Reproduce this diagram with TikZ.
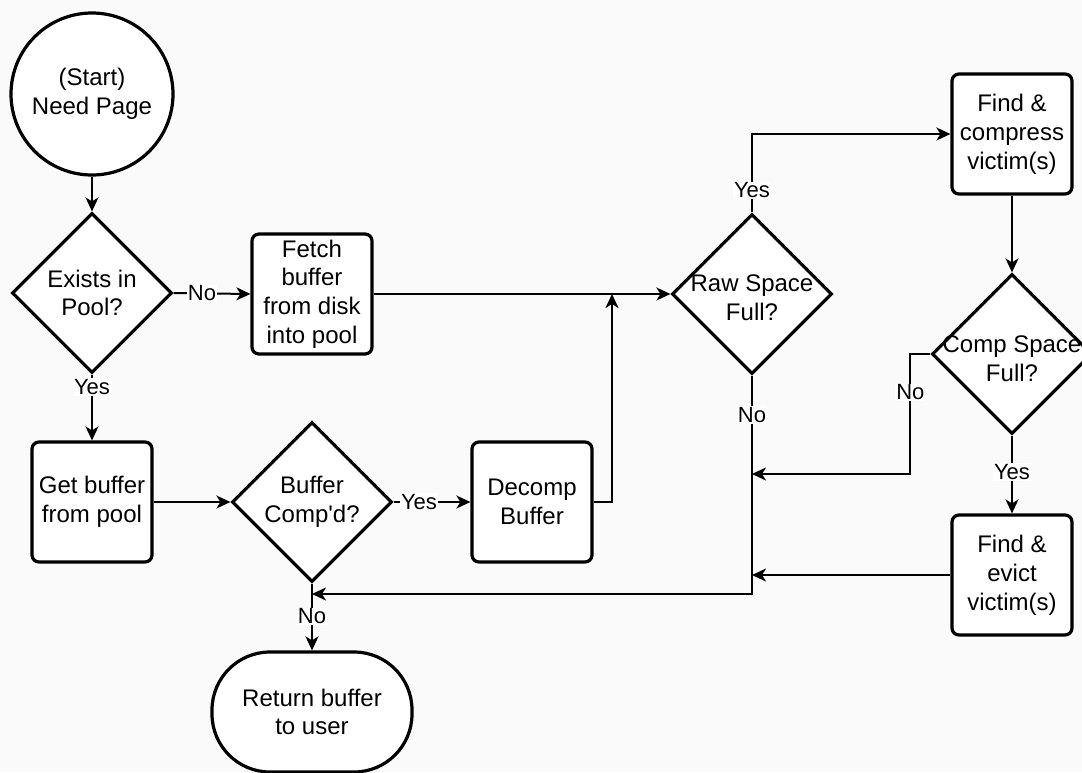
\documentclass[tikz,border=0pt]{standalone}
\usepackage{fontspec}
\setmainfont{Liberation Sans}
\usetikzlibrary{shapes.geometric,arrows.meta}
\definecolor{bgc}{RGB}{250,250,250}
\begin{document}
\begin{tikzpicture}[x=1pt,y=-1pt,
  shp/.style={draw=black,line width=3.2pt,fill=white},
  box/.style={shp,rounded corners=7pt,minimum width=120pt,minimum height=120pt,inner sep=1pt,align=center,font=\fontsize{24}{28.8}\selectfont},
  dia/.style={shp,diamond,minimum width=160pt,minimum height=160pt,inner sep=0pt},
  txt/.style={align=center,font=\fontsize{24}{28.8}\selectfont,inner sep=0pt},
  conn/.style={draw=black,line width=2pt,-{Stealth[length=14pt,width=13pt,inset=4pt]}},
  lbl/.style={fill=white,inner sep=1pt,font=\fontsize{22}{26}\selectfont},
]
\useasboundingbox (0,0) rectangle (1082,772);
\fill[bgc] (0,0) rectangle (1082,772);

% nodes
\node[shp,circle,minimum size=162pt,inner sep=0pt] (start) at (92,94) {};
\node[txt] (starttxt) at (start) {(Start)\\Need Page};

\node[dia] (exists) at (92,293) {};
\node[txt] (existstxt) at (exists) {Exists in\\Pool?};

\node[box] (fetch) at (312,294) {Fetch\\buffer\\from disk\\into pool};

\node[dia] (raw) at (752,294) {};
\node[txt] (rawtxt) at ([yshift=-4pt]raw.center) {Raw Space\\Full?};

\node[box] (comp) at (1012,134) {Find \&\\compress\\victim(s)};

\node[dia] (compfull) at (1012,354) {};
\node[txt] (compfulltxt) at ([yshift=-5pt]compfull.center) {Comp Space\\Full?};

\node[box] (getbuf) at (92,502) {Get buffer\\from pool};

\node[dia] (bufcomp) at (312,502) {};
\node[txt] (bufcomptxt) at (bufcomp) {Buffer\\Comp\textquotesingle d?};

\node[box] (decomp) at (532,502) {Decomp\\Buffer};

\node[box] (evict) at (1012,575) {Find \&\\evict\\victim(s)};

\node[shp,rounded corners=58pt,minimum width=200pt,minimum height=120pt,inner sep=0pt] (ret) at (312,712) {};
\node[txt] (rettxt) at (ret) {Return buffer\\to user};

% junction points
\coordinate (j1) at (612,294);
\coordinate (j2) at (752,474);
\coordinate (j3) at (752,575);
\coordinate (j4) at (312,594);

% connectors
\draw[conn] (start.south) -- (exists.north);
\draw[conn] (exists.east) -- node[lbl,pos=0.37]{No} (fetch.west);
\draw[conn] (exists.south) -- node[lbl,pos=0.19]{Yes} (getbuf.north);
\draw[conn] (fetch.east) -- (raw.west);
\draw[conn] (getbuf.east) -- (bufcomp.west);
\draw[conn] (bufcomp.east) -- node[lbl,pos=0.33]{Yes} (decomp.west);
\draw[conn] (decomp.east) -| (j1);
\draw[conn] (raw.north) |- node[lbl,pos=0.14]{Yes} (comp.west);
\draw[conn] (comp.south) -- (compfull.north);
\draw[conn] (compfull.west) -- ++(-20,0) |- node[lbl,pos=0.16]{No} (j2);
\draw[conn] (compfull.south) -- node[lbl,pos=0.47]{Yes} (evict.north);
\draw[conn] (evict.west) -- (j3);
\draw[conn] (raw.south) |- node[lbl,pos=0.09]{No} (j4);
\draw[conn] (bufcomp.south) -- node[lbl,pos=0.49]{No} (ret.north);
\end{tikzpicture}
\end{document}
